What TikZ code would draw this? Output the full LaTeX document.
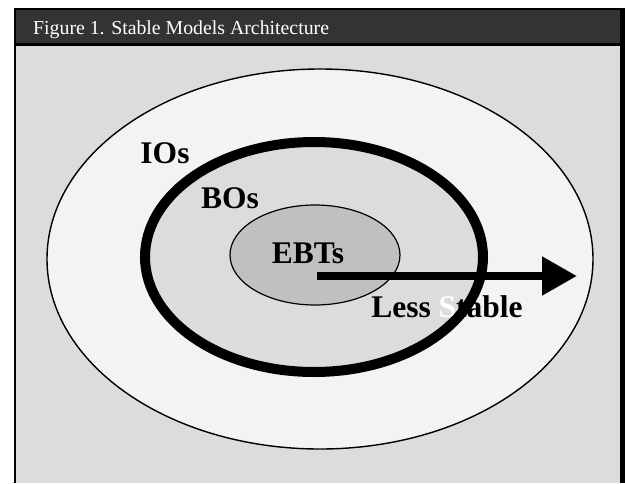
\documentclass[tikz,border=0pt]{standalone}
\usepackage{fontspec}
\setmainfont{Liberation Serif}
\usepackage{tikz}
\usetikzlibrary{
    arrows.meta,
    positioning,
    shapes.geometric
}
\definecolor{titlebar}{RGB}{51,51,51}
\definecolor{bodygray}{RGB}{220,220,220}
\definecolor{ringlight}{RGB}{243,243,243}
\definecolor{coregray}{RGB}{192,192,192}
\tikzset{
  zone/.style    = {ellipse, draw, inner sep=0pt, line width=1.4pt},
  lbl/.style     = {font=\fontsize{31.5}{31.5}\selectfont\bfseries, anchor=base,
                    inner sep=0pt},
  stablearr/.style = {-{Triangle[length=35pt,width=37pt]}, line width=8pt}
}

\begin{document}
\begin{tikzpicture}[x=1pt, y=-1pt]
\useasboundingbox (0,0) rectangle (625,483);

%% Frame and title bar
\fill[black] (14,8) rectangle (625,483);
\fill[titlebar] (16,10) rectangle (620,43);
\fill[bodygray] (16,46) rectangle (620,483);
\node[anchor=base west, text=white, inner sep=0pt,
      font=\fontsize{19.8}{19.8}\selectfont] (title) at (33,34)
  {Figure 1. Stable Models Architecture};

%% Nested zones (outside to inside)
\node[zone, fill=ringlight, minimum width=546pt, minimum height=380pt]
  (ios) at (320,259) {};
\node[zone, fill=bodygray, line width=10pt,
      minimum width=338pt, minimum height=230pt]
  (bos) at (314,257) {};
\node[zone, fill=coregray, line width=1.2pt,
      minimum width=170pt, minimum height=100pt]
  (ebts) at (315,255) {};

%% Stability arrow
\coordinate (arrfrom) at (317,276);
\coordinate (arrto)   at (577,276);
\draw[stablearr] (arrfrom) -- (arrto);

%% Labels
\node[lbl] (iolbl)  at (165,163) {IOs};
\node[lbl] (bolbl)  at (230,208) {BOs};
\node[lbl] (ebtlbl) at (308,263) {EBTs};
\node[lbl] (lesslbl) at (447,317) {Less {\color{white}S}table};

\end{tikzpicture}
\end{document}
